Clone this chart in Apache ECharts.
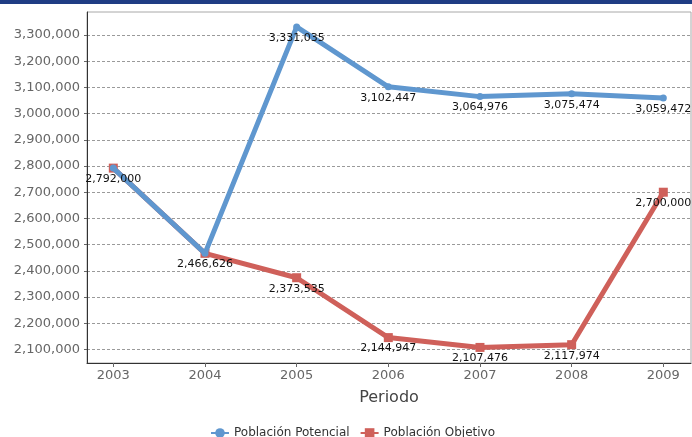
<!DOCTYPE html>
<html>
<head>
<meta charset="utf-8">
<script src="https://cdn.jsdelivr.net/npm/echarts@6/dist/echarts.min.js"></script>
<style>
html,body{margin:0;padding:0;background:#fff;}
#chart{width:692px;height:437px;}
</style>
</head>
<body>
<div id="chart"></div>
<script>
var years = [2003, 2004, 2005, 2006, 2007, 2008, 2009];
var potencial = [2792000, 2466626, 3331035, 3102447, 3064976, 3075474, 3059472];
var objetivo = [2792000, 2466626, 2373535, 2144947, 2107476, 2117974, 2700000];
var yTicks = [2100000, 2200000, 2300000, 2400000, 2500000, 2600000, 2700000, 2800000, 2900000, 3000000, 3100000, 3200000, 3300000];
var seriesNames = ['Población Potencial', 'Población Objetivo'];
var xName = 'Periodo';

var fmt = function (v) { return Math.round(v).toLocaleString('en-US'); };
var chart = echarts.init(document.getElementById('chart'), null, {renderer: 'canvas'});
var font = 'DejaVu Sans';

chart.setOption({
  animation: false,
  backgroundColor: '#ffffff',
  textStyle: {fontFamily: font},
  graphic: [{
    type: 'rect', left: 0, top: 0, z: 100,
    shape: {width: 692, height: 4},
    style: {fill: '#1f3d84'}
  }],
  grid: {
    left: 87, right: 1, top: 12, height: 351,
    show: true, borderColor: '#a8a8a8', borderWidth: 1, backgroundColor: '#fff'
  },
  legend: {
    data: seriesNames,
    left: 205, top: 422,
    itemWidth: 18, itemHeight: 12, itemGap: 10,
    textStyle: {fontFamily: font, fontSize: 12, color: '#333'}
  },
  xAxis: {
    type: 'value',
    min: 2002.713, max: 2009.302,
    name: xName, nameLocation: 'middle', nameGap: 27,
    nameTextStyle: {fontFamily: font, fontSize: 16, color: '#444'},
    axisLine: {show: true, lineStyle: {color: '#333', width: 1}},
    axisTick: {show: true, length: 4, customValues: years, lineStyle: {color: '#666'}},
    axisLabel: {customValues: years, margin: 6, fontFamily: font, fontSize: 13, color: '#666',
      formatter: function (v) { return String(Math.round(v)); }},
    splitLine: {show: false}
  },
  yAxis: {
    type: 'value',
    min: 2048000, max: 3388000,
    axisLine: {show: true, lineStyle: {color: '#333', width: 1}},
    axisTick: {show: true, length: 3, customValues: yTicks, lineStyle: {color: '#666'}},
    axisLabel: {customValues: yTicks, margin: 7, fontFamily: font, fontSize: 13, color: '#666',
      formatter: function (v) { return fmt(v); }},
    splitLine: {show: true, lineStyle: {color: '#9a9a9a', width: 1, type: [3, 2]}}
  },
  series: [{
    name: seriesNames[0], type: 'line', z: 3,
    data: years.map(function (y, i) { return [y, potencial[i]]; }),
    symbol: 'circle', symbolSize: 7,
    lineStyle: {color: '#5f97cf', width: 5},
    itemStyle: {color: '#5f97cf'},
    label: {show: true, position: 'bottom', distance: 2, fontFamily: font, fontSize: 11, color: '#111',
      formatter: function (p) { return fmt(p.value[1]); }}
  }, {
    name: seriesNames[1], type: 'line', z: 2,
    data: years.map(function (y, i) { return [y, objetivo[i]]; }),
    symbol: 'rect', symbolSize: 9,
    lineStyle: {color: '#cf605a', width: 5},
    itemStyle: {color: '#cf605a'},
    label: {show: true, position: 'bottom', distance: 1, fontFamily: font, fontSize: 11, color: '#111',
      formatter: function (p) { return objetivo[p.dataIndex] === potencial[p.dataIndex] ? '' : fmt(p.value[1]); }}
  }]
});
</script>
</body>
</html>
